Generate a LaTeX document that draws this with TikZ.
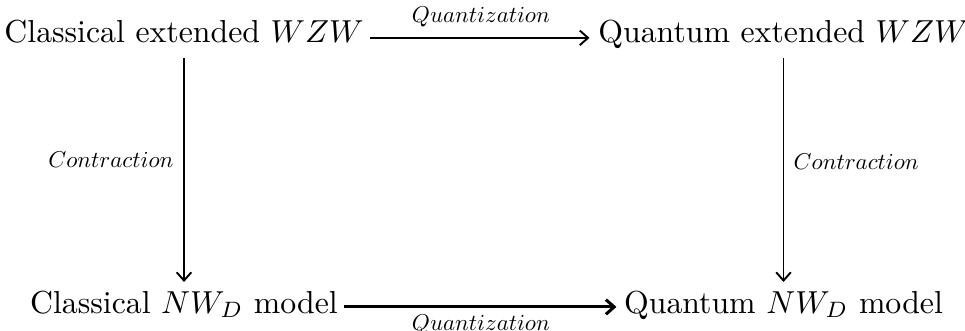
\documentclass[tikz,border=0pt]{standalone}
\usepackage{amsmath,amssymb}
\usepackage{tikz}
\usetikzlibrary{arrows.meta,positioning}

\begin{document}
\begin{tikzpicture}[
    x=0.3145pt, y=-0.3145pt,
    obj/.style={anchor=base, inner sep=0pt},
    map/.style={line width=0.6pt, -{Straight Barb[length=2.6pt,width=4.6pt]}},
    lbl/.style={inner sep=0pt, scale=0.72}
  ]
  \useasboundingbox (0,0) rectangle (965,331);

  \node[obj] (CW) at (184,42) {Classical extended $WZW$};
  \node[obj] (QW) at (783.5,42) {Quantum extended $WZW$};
  \node[obj] (CN) at (184,313) {Classical $NW_D$ model};
  \node[obj] (QN) at (783.5,313) {Quantum $NW_D$ model};

  \draw[map, shorten <=1.9pt, shorten >=2.6pt] ([yshift=1.3pt]CW.base east) -- ([yshift=1.3pt]QW.base west)
    node[lbl, midway, above=3.1pt] {$Quantization$};
  \draw[map, line width=0.95pt, shorten <=1.7pt, shorten >=2.2pt] ([yshift=1.9pt]CN.base east) -- ([yshift=1.9pt]QN.base west)
    node[lbl, midway, below=2pt] {$Quantization$};

  \draw[map, shorten <=4.7pt, shorten >=2.5pt] (CW.south) -- (CW.south |- CN.north)
    node[lbl, pos=0.47, left=3.1pt] {$Contraction$};
  \draw[map, shorten <=3pt, shorten >=2.5pt] (QW.south) -- (QW.south |- QN.north)
    node[lbl, pos=0.47, right=3pt] {$Contraction$};
\end{tikzpicture}
\end{document}
